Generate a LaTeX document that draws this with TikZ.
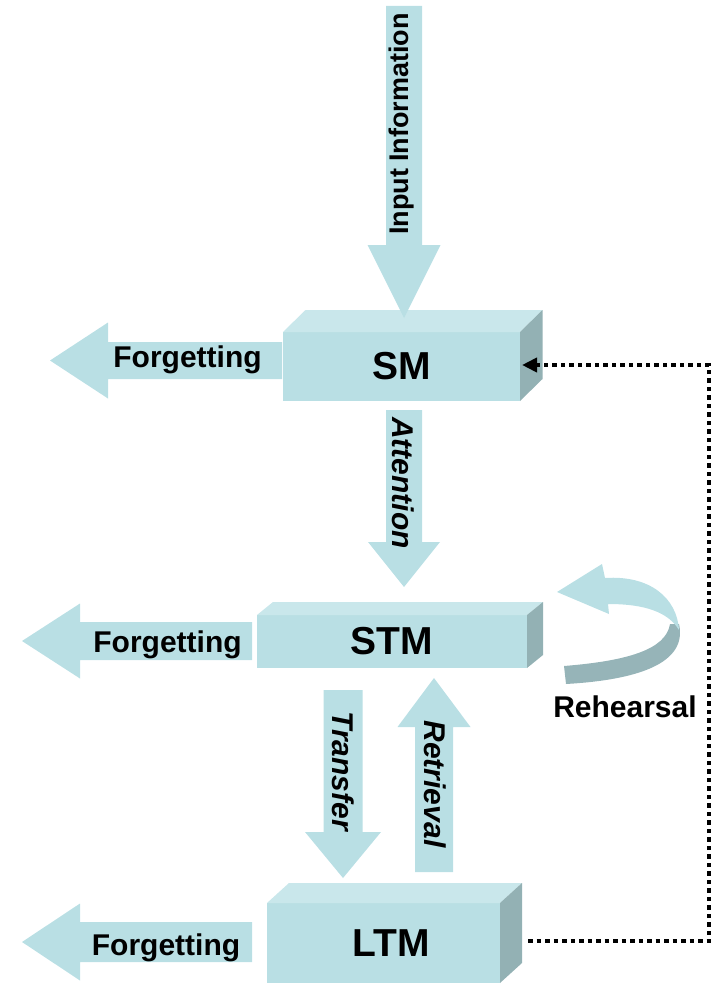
\documentclass[tikz,border=0pt]{standalone}
\usepackage{fontspec}
\setmainfont{Liberation Sans}
\usetikzlibrary{calc,arrows.meta}

\definecolor{facefront}{RGB}{185,223,228}
\definecolor{facetop}{RGB}{201,231,235}
\definecolor{faceside}{RGB}{147,177,180}
\definecolor{arrowblue}{RGB}{185,223,228}
\definecolor{ribbondark}{RGB}{150,180,184}

\tikzset{
  membox/.style={fill=facefront, inner sep=0pt, outer sep=0pt,
    font=\fontsize{39}{39}\selectfont\bfseries},
  flowlabel/.style={inner sep=0pt, font=\fontsize{30}{30}\selectfont\bfseries\itshape},
  inputlabel/.style={inner sep=0pt, font=\fontsize{27}{27}\selectfont\bfseries},
  forgetlabel/.style={inner sep=0pt, anchor=base, font=\fontsize{30}{30}\selectfont\bfseries},
  recall/.style={line width=4pt, dash pattern=on 4.5pt off 4pt,
    -{Triangle[length=15pt,width=14pt]}},
}

% top and right faces of a memory block: node, depth x, depth y
\newcommand\boxfaces[3]{%
  \fill[facetop] (#1.north west) -- ++(#2,-#3) -- ($(#1.north east)+(#2,-#3)$) -- (#1.north east) -- cycle;
  \fill[faceside] (#1.north east) -- ++(#2,-#3) -- ($(#1.south east)+(#2,-#3)$) -- (#1.south east) -- cycle;}

% block arrows: tail, tip, shaft half width, head half width, head length
\newcommand\arrowdown[5]{%
  \fill[arrowblue] ($(#1)+(-#3,0)$) -- ($(#1)+(#3,0)$) -- ($(#2)+(#3,-#5)$) -- ($(#2)+(#4,-#5)$)
    -- (#2) -- ($(#2)+(-#4,-#5)$) -- ($(#2)+(-#3,-#5)$) -- cycle;}
\newcommand\arrowup[5]{%
  \fill[arrowblue] ($(#1)+(-#3,0)$) -- ($(#1)+(#3,0)$) -- ($(#2)+(#3,#5)$) -- ($(#2)+(#4,#5)$)
    -- (#2) -- ($(#2)+(-#4,#5)$) -- ($(#2)+(-#3,#5)$) -- cycle;}
\newcommand\arrowleft[5]{%
  \fill[arrowblue] ($(#1)+(0,-#3)$) -- ($(#2)+(#5,-#3)$) -- ($(#2)+(#5,-#4)$) -- (#2)
    -- ($(#2)+(#5,#4)$) -- ($(#2)+(#5,#3)$) -- ($(#1)+(0,#3)$) -- cycle;}

\begin{document}
\begin{tikzpicture}[x=1pt,y=-1pt]
\useasboundingbox (0,0) rectangle (713,984);

% memory stores
\node[membox, minimum width=237pt, minimum height=69pt] (sm) at (401.5,366.5) {SM};
\boxfaces{sm}{22.5}{22}
\node[membox, minimum width=270pt, minimum height=53pt] (stm) at (392,641.5) {STM};
\boxfaces{stm}{16}{13}
\node[membox, minimum width=233pt, minimum height=80pt, text width=233pt, align=center] (ltm) at (383.5,943) {\hspace*{16pt}LTM};
\boxfaces{ltm}{22}{20}

% arrow end points
\coordinate (intail) at (404,6);
\coordinate (intip) at (404,318);
\coordinate (atttail) at (404,410);
\coordinate (atttip) at (404,587);
\coordinate (trtail) at (343,690);
\coordinate (trtip) at (343,878);
\coordinate (retail) at (434,872);
\coordinate (retip) at (434,678);
\coordinate (fsmtail) at (282,360.5);
\coordinate (fsmtip) at (50,360.5);
\coordinate (fstmtail) at (252,641);
\coordinate (fstmtip) at (22,641);
\coordinate (fltmtail) at (252,942);
\coordinate (fltmtip) at (22,942);

\arrowdown{intail}{intip}{18}{36.5}{73}
\arrowdown{atttail}{atttip}{18}{36}{45}
\arrowdown{trtail}{trtip}{19.5}{38}{46}
\arrowup{retail}{retip}{19}{36.5}{49}
\arrowleft{fsmtail}{fsmtip}{18.5}{38}{58}
\arrowleft{fstmtail}{fstmtip}{19}{37.5}{58}
\arrowleft{fltmtail}{fltmtip}{20}{38.5}{58}

% labels on the arrows
\node[inputlabel, rotate=90] (inlab) at (402,124) {Input Information};
\node[flowlabel, rotate=-90] (attlab) at (403,483) {Attention};
\node[flowlabel, rotate=-90] (trlab) at (343,771) {Transfer};
\node[flowlabel, rotate=-90] (relab) at (435,784) {Retrieval};
\node[forgetlabel] (fsm) at (187.5,367) {Forgetting};
\node[forgetlabel] (fstm) at (167.5,652) {Forgetting};
\node[forgetlabel] (fltm) at (166,955) {Forgetting};

% rehearsal loop
\fill[ribbondark] (679,624) .. controls (688,664) and (636,680) .. (566,684)
  -- (564,666) .. controls (626,661) and (666,650) .. (670,624) -- cycle;
\fill[arrowblue] (557,592) -- (602,564) -- (605,578) .. controls (650,575) and (677,598) .. (679,630)
  .. controls (668,612) and (645,604) .. (608,604) -- (609,614) -- cycle;
\node[forgetlabel] (reh) at (625,717) {Rehearsal};

% retrieval path back to the sensory store
\coordinate (ltmout) at (528,941);
\coordinate (corner) at (709,365);
\coordinate (smin) at (522,365);
\draw[recall] (ltmout) -| (corner) -- (smin);
\end{tikzpicture}
\end{document}
